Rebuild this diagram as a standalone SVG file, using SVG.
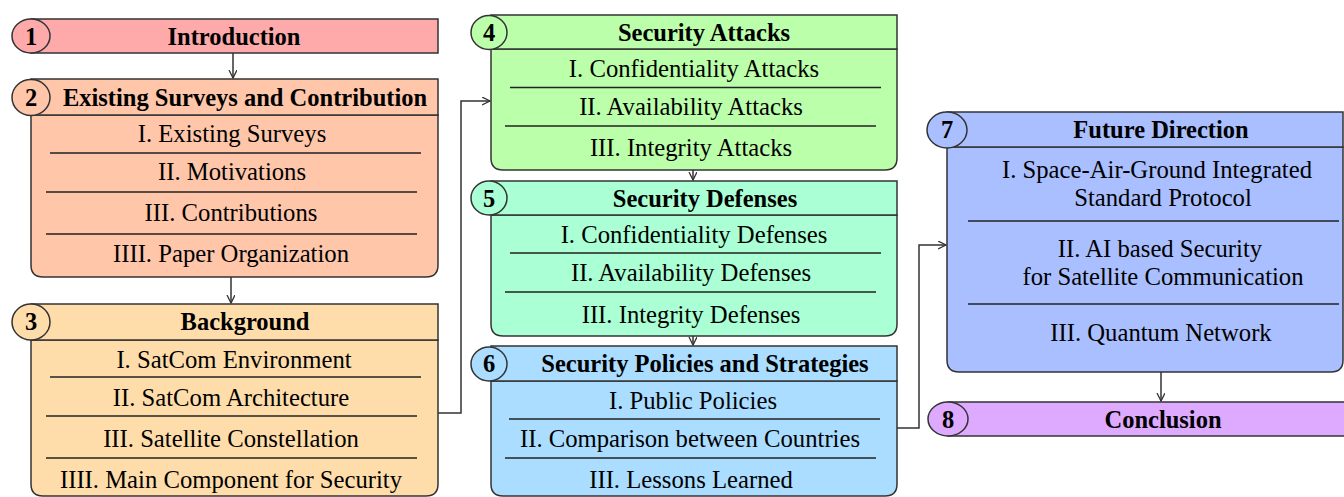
<svg xmlns="http://www.w3.org/2000/svg" width="1344" height="497" viewBox="0 0 1344 497">
<style>
.bd{stroke:#333;stroke-width:1.5}
.sep{stroke:#222;stroke-width:1.3}
.h{font-family:"Liberation Serif","Times New Roman",serif;font-weight:bold;font-size:24.5px;text-anchor:middle;dominant-baseline:central;fill:#000}
.t{font-family:"Liberation Serif","Times New Roman",serif;font-size:24.7px;text-anchor:middle;dominant-baseline:central;fill:#000}
.c{stroke:#333;stroke-width:1.5;fill:none}
.c1{fill:#FFAAAA}.c2{fill:#FFC6AA}.c3{fill:#FFDDAA}.c4{fill:#BBFFAA}.c5{fill:#AAFFD4}.c6{fill:#AADDFF}.c7{fill:#AABFFF}.c8{fill:#DDAAFF}
</style>
<defs>
<marker id="ah" markerWidth="10" markerHeight="10" refX="8" refY="4" orient="auto" markerUnits="userSpaceOnUse">
<path d="M0,0 L8,4 L0,8" fill="none" stroke="#333" stroke-width="1.3"/>
</marker>
</defs>
<g id="connectors">
<path class="c" d="M233,53 V78" marker-end="url(#ah)"/>
<path class="c" d="M231,277 V303" marker-end="url(#ah)"/>
<path class="c" d="M438,413 H461 V101 H490" marker-end="url(#ah)"/>
<path class="c" d="M693,170 V180" marker-end="url(#ah)"/>
<path class="c" d="M693,336 V345" marker-end="url(#ah)"/>
<path class="c" d="M897,428 H919 V245 H946" marker-end="url(#ah)"/>
<path class="c" d="M1161,372 V401" marker-end="url(#ah)"/>
</g>
<g id="node1">
<rect class="bd c1" x="31" y="19" width="407" height="34"/>
<ellipse class="bd c1" cx="31" cy="36" rx="19" ry="17"/>
<text class="h" x="31" y="36">1</text>
<text class="h" x="234" y="36">Introduction</text>
</g>
<g id="node2">
<path class="bd c2" d="M31,115 H438 V265 Q438,277 426,277 H43 Q31,277 31,265 Z"/>
<rect class="bd c2" x="31" y="79" width="407" height="36"/>
<ellipse class="bd c2" cx="31" cy="97.5" rx="19" ry="18"/>
<text class="h" x="31" y="97">2</text>
<text class="h" x="245" y="97">Existing Surveys and Contribution</text>
<text class="t" x="232" y="133.5">I. Existing Surveys</text>
<line class="sep" x1="50" y1="153" x2="421" y2="153"/>
<text class="t" x="232" y="171.5">II. Motivations</text>
<line class="sep" x1="46" y1="192" x2="417" y2="192"/>
<text class="t" x="231" y="212.5">III. Contributions</text>
<line class="sep" x1="46" y1="234" x2="417" y2="234"/>
<text class="t" x="231" y="253.5">IIII. Paper Organization</text>
</g>
<g id="node3">
<path class="bd c3" d="M31,340 H438 V484 Q438,496 426,496 H43 Q31,496 31,484 Z"/>
<rect class="bd c3" x="31" y="304" width="407" height="36"/>
<ellipse class="bd c3" cx="31" cy="322" rx="19" ry="18"/>
<text class="h" x="31" y="321.5">3</text>
<text class="h" x="245" y="321.5">Background</text>
<text class="t" x="234" y="359">I. SatCom Environment</text>
<line class="sep" x1="50" y1="377" x2="421" y2="377"/>
<text class="t" x="231" y="397">II. SatCom Architecture</text>
<line class="sep" x1="46" y1="416" x2="417" y2="416"/>
<text class="t" x="231" y="438">III. Satellite Constellation</text>
<line class="sep" x1="46" y1="458" x2="417" y2="458"/>
<text class="t" x="231" y="479">IIII. Main Component for Security</text>
</g>
<g id="node4">
<path class="bd c4" d="M491,49 H897 V158 Q897,170 885,170 H503 Q491,170 491,158 Z"/>
<rect class="bd c4" x="491" y="15" width="406" height="34"/>
<ellipse class="bd c4" cx="489" cy="32.5" rx="18" ry="17"/>
<text class="h" x="489" y="32.5">4</text>
<text class="h" x="704" y="32.5">Security Attacks</text>
<text class="t" x="694" y="68.5">I. Confidentiality Attacks</text>
<line class="sep" x1="510" y1="87.5" x2="881" y2="87.5"/>
<text class="t" x="691" y="106.5">II. Availability Attacks</text>
<line class="sep" x1="505" y1="126" x2="876" y2="126"/>
<text class="t" x="691" y="147.5">III. Integrity Attacks</text>
</g>
<g id="node5">
<path class="bd c5" d="M491,215 H897 V324 Q897,336 885,336 H503 Q491,336 491,324 Z"/>
<rect class="bd c5" x="491" y="181" width="406" height="34"/>
<ellipse class="bd c5" cx="489" cy="198" rx="18" ry="17"/>
<text class="h" x="489" y="198">5</text>
<text class="h" x="705" y="198">Security Defenses</text>
<text class="t" x="694" y="234.5">I. Confidentiality Defenses</text>
<line class="sep" x1="510" y1="253" x2="881" y2="253"/>
<text class="t" x="691" y="272.5">II. Availability Defenses</text>
<line class="sep" x1="505" y1="292" x2="876" y2="292"/>
<text class="t" x="691" y="314">III. Integrity Defenses</text>
</g>
<g id="node6">
<path class="bd c6" d="M491,381 H897 V484 Q897,496 885,496 H503 Q491,496 491,484 Z"/>
<rect class="bd c6" x="491" y="346" width="406" height="35"/>
<ellipse class="bd c6" cx="489" cy="364" rx="18" ry="17"/>
<text class="h" x="489" y="363.5">6</text>
<text class="h" x="705" y="363.5">Security Policies and Strategies</text>
<text class="t" x="693" y="400.5">I. Public Policies</text>
<line class="sep" x1="509" y1="419" x2="880" y2="419"/>
<text class="t" x="690" y="438.5">II. Comparison between Countries</text>
<line class="sep" x1="505" y1="458" x2="876" y2="458"/>
<text class="t" x="691" y="479.5">III. Lessons Learned</text>
</g>
<g id="node7">
<path class="bd c7" d="M947,147 H1343 V360 Q1343,372 1331,372 H959 Q947,372 947,360 Z"/>
<rect class="bd c7" x="947" y="112" width="396" height="35"/>
<ellipse class="bd c7" cx="947" cy="130" rx="20" ry="18"/>
<text class="h" x="947" y="129.5">7</text>
<text class="h" x="1161" y="129.5">Future Direction</text>
<text class="t" x="1157" y="169.5">I. Space-Air-Ground Integrated</text>
<text class="t" x="1163" y="197.5">Standard Protocol</text>
<line class="sep" x1="968" y1="221" x2="1339" y2="221"/>
<text class="t" x="1160" y="248.5">II. AI based Security</text>
<text class="t" x="1163" y="276.5">for Satellite Communication</text>
<line class="sep" x1="968" y1="304" x2="1339" y2="304"/>
<text class="t" x="1161" y="332.5">III. Quantum Network</text>
</g>
<g id="node8">
<rect class="bd c8" x="948" y="402" width="420" height="34"/>
<ellipse class="bd c8" cx="948" cy="419" rx="20" ry="17"/>
<text class="h" x="948" y="419">8</text>
<text class="h" x="1163" y="419">Conclusion</text>
</g>
</svg>
